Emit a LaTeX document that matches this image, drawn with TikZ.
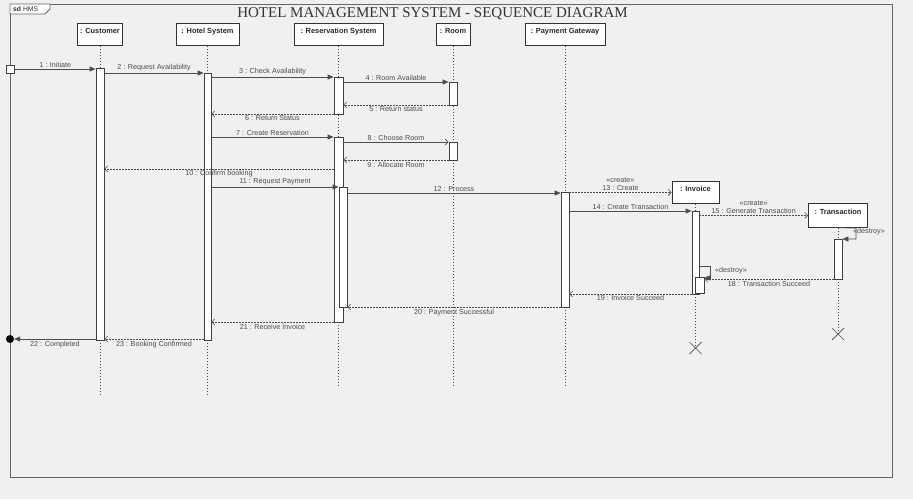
\documentclass[tikz,border=0pt]{standalone}
\usepackage{fontspec}
\setmainfont{Liberation Sans}
\newfontfamily\titlefont{Liberation Serif}
\usetikzlibrary{arrows.meta,fit}
\begin{document}
\begin{tikzpicture}[x=1pt,y=-1pt,
  head/.style={draw=black!80, fill=white, line width=0.8pt, minimum height=22pt, inner sep=0pt,
    text depth=7pt, font=\bfseries\fontsize{7.4}{8}\selectfont, text=black!85, anchor=north},
  act/.style={draw=black!75, fill=white, line width=0.7pt, inner sep=0pt},
  life/.style={draw=black!70, line width=0.6pt, dash pattern=on 1.5pt off 1.5pt},
  sync/.style={draw=black!70, line width=0.7pt, -{Triangle[length=6pt,width=5pt]}},
  reply/.style={draw=black!70, line width=0.6pt, dash pattern=on 1.5pt off 1.5pt, -{Straight Barb[length=3pt,width=6pt]}},
  async/.style={draw=black!70, line width=0.7pt, -{Straight Barb[length=3pt,width=6pt]}},
  lbl/.style={font=\fontsize{7.2}{7.6}\selectfont, text=black!70, inner sep=0.5pt},
  xmark/.style={draw=black!70, line width=0.7pt},
]
% background and frame
\fill[black!6] (0,0) rectangle (913,499);
\draw[black!60, line width=1pt] (10,4) rectangle (892,477);
\draw[black!60, line width=0.8pt, fill=white] (10,4) -- (50,4) -- (50,9) -- (45,14) -- (10,14) -- cycle;
\node[font=\fontsize{6.8}{7}\selectfont, text=black!80, anchor=west, inner sep=0] (sd) at (13,9.5) {\textbf{sd} HMS};
\node[font=\titlefont\fontsize{15}{17}\selectfont, text=black!80, inner sep=0] (title) at (432.5,14) {HOTEL MANAGEMENT SYSTEM - SEQUENCE DIAGRAM};

% lifeline heads
\node[head, minimum width=45pt] (cu) at (100,23) {: Customer};
\node[head, minimum width=63pt] (hs) at (207.5,23) {: Hotel System};
\node[head, minimum width=89pt] (rs) at (338.5,23) {: Reservation System};
\node[head, minimum width=34pt] (rm) at (453,23) {: Room};
\node[head, minimum width=80pt] (pg) at (565,23) {: Payment Gateway};
\node[head, minimum width=47pt] (inv) at (695.5,181) {: Invoice};
\node[head, minimum width=59pt, minimum height=24pt] (tr) at (838,203) {: Transaction};

% end points of lifelines
\coordinate (cuE) at (100,395);
\coordinate (hsE) at (207.5,396);
\coordinate (rsE) at (338.5,387);
\coordinate (rmE) at (453,386);
\coordinate (pgE) at (565,386);
\coordinate (invX) at (695.5,348);
\coordinate (trX) at (838,334);

\draw[life] (cu.south) -- (cuE);
\draw[life] (hs.south) -- (hsE);
\draw[life] (rs.south) -- (rsE);
\draw[life] (rm.south) -- (rmE);
\draw[life] (pg.south) -- (pgE);
\draw[life] (inv.south) -- (invX);
\draw[life] (tr.south) -- (trX);

% destroy marks
\draw[xmark] ([shift={(-6,-6)}]invX) -- ([shift={(6,6)}]invX) ([shift={(-6,6)}]invX) -- ([shift={(6,-6)}]invX);
\draw[xmark] ([shift={(-6,-6)}]trX) -- ([shift={(6,6)}]trX) ([shift={(-6,6)}]trX) -- ([shift={(6,-6)}]trX);

% activations
\node[act, fit={(96,68)(104,340)}] (cu1) {};
\node[act, fit={(204,73)(211,340)}] (hs1) {};
\node[act, fit={(334,77)(343,114)}] (rs1) {};
\node[act, fit={(449,82)(457,105)}] (rm1) {};
\node[act, fit={(334,137)(343,322)}] (rs2) {};
\node[act, fit={(449,142)(457,160)}] (rm2) {};
\node[act, fit={(339,187)(347,307)}] (rs3) {};
\node[act, fit={(561,192)(569,307)}] (pg1) {};
\node[act, fit={(692,211)(699,294)}] (iv1) {};
\node[act, fit={(695,277)(704,293)}] (iv2) {};
\node[act, fit={(834,239)(842,279)}] (tr1) {};

% found / lost
\node[draw=black!75, fill=white, line width=0.7pt, minimum size=8pt, inner sep=0pt] (found) at (10.5,69) {};
\node[fill=black, circle, minimum size=8pt, inner sep=0pt] (lost) at (10,339) {};

% messages
\draw[sync] (found.east) -- (cu1.west |- found) node[lbl, midway, above=1pt] {1 : Initiate};
\draw[sync] (cu1.east |- 0,73) -- (hs1.west |- 0,73) node[lbl, midway, above=1pt] {2 : Request Availability};
\draw[sync] (hs1.east |- 0,77) -- (rs1.west |- 0,77) node[lbl, midway, above=1pt] {3 : Check Availability};
\draw[sync] (rs1.east |- 0,82) -- (rm1.west |- 0,82) node[lbl, midway, above=1pt] {4 : Room Available};
\draw[reply] (rm1.west |- 0,105) -- (rs1.east |- 0,105) node[lbl, midway, below=1pt] {5 : Return status};
\draw[reply] (rs1.west |- 0,114) -- (hs1.east |- 0,114) node[lbl, midway, below=1pt] {6 : Return Status};
\draw[sync] (hs1.east |- 0,137) -- (rs2.west |- 0,137) node[lbl, midway, above=1pt] {7 : Create Reservation};
\draw[async] (rs2.east |- 0,142) -- (rm2.west |- 0,142) node[lbl, midway, above=1pt] {8 : Choose Room};
\draw[reply] (rm2.west |- 0,160) -- (rs2.east |- 0,160) node[lbl, midway, below=1pt] {9 : Allocate Room};
\draw[reply] (rs2.west |- 0,169) -- (cu1.east |- 0,169) node[lbl, midway, below=0.5pt] {10 : Confirm booking};
\draw[sync] (hs1.east |- 0,187) -- (rs3.west |- 0,187) node[lbl, midway, above=1pt] {11 : Request Payment};
\draw[sync] (rs3.east |- 0,193) -- (pg1.west |- 0,193) node[lbl, midway, above=1pt] {12 : Process};
\draw[reply] (pg1.east |- inv.west) -- (inv.west) node[lbl, midway, above=1pt, align=center] {«create»\\13 : Create};
\draw[sync] (pg1.east |- 0,211) -- (iv1.west |- 0,211) node[lbl, midway, above=1pt] {14 : Create Transaction};
\draw[reply] (iv1.east |- tr.west) -- (tr.west) node[lbl, midway, above=1pt, align=center] {«create»\\15 : Generate Transaction};
\draw[sync] (tr.south) -- (856,228) -- (856,239) -- (tr1.east |- 0,239);
\node[lbl] (d16) at (869,232) {«destroy»};
\draw[sync] (iv1.east |- 0,266) -- (710,266) -- (710,278) -- (iv2.east |- 0,278);
\node[lbl] (d17) at (731,271) {«destroy»};
\draw[reply] (tr1.west |- 0,279) -- (iv2.east |- 0,279) node[lbl, midway, below=1pt] {18 : Transaction Succeed};
\draw[reply] (iv1.west |- 0,294) -- (pg1.east |- 0,294) node[lbl, midway, below=0.5pt] {19 : Invoice Succeed};
\draw[reply] (pg1.west |- 0,307) -- (rs3.east |- 0,307) node[lbl, midway, below=1pt] {20 : Payment Successful};
\draw[reply] (rs2.west |- 0,322) -- (hs1.east |- 0,322) node[lbl, midway, below=1pt] {21 : Receive Invoice};
\draw[sync] (cu1.west |- lost) -- (lost.east) node[lbl, midway, below=1pt] {22 : Completed};
\draw[reply] (hs1.west |- 0,339) -- (cu1.east |- 0,339) node[lbl, midway, below=1pt] {23 : Booking Confirmed};
\end{tikzpicture}
\end{document}
